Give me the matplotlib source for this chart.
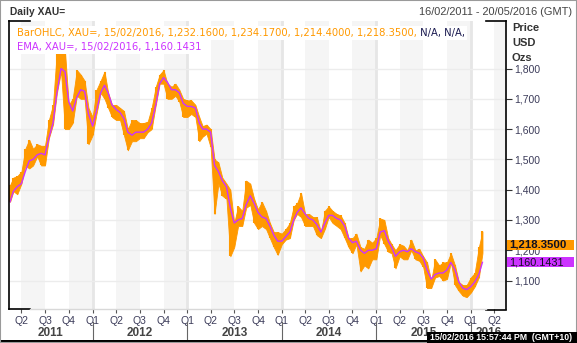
import matplotlib
matplotlib.use("Agg")
import matplotlib.pyplot as plt
import matplotlib.transforms as mtrans
from matplotlib.patches import Rectangle
from matplotlib.lines import Line2D
import pandas as pd

plt.rcParams["font.family"] = ["Liberation Sans", "DejaVu Sans"]

ORANGE = "#FF9900"
MAGENTA = "#CC33FF"
TXT = "#3C3C5A"

# semi-monthly sampling of the daily bars (1st and 16th of each month)
dates = ["2011-02-16"]
for yr in range(2011, 2017):
    for mo in range(1, 13):
        for dd in (1, 16):
            d = f"{yr}-{mo:02d}-{dd:02d}"
            if "2011-02-16" < d < "2016-02-15":
                dates.append(d)
dates.append("2016-02-15")
dates = pd.to_datetime(dates)

high = [1415, 1440, 1445, 1460, 1535, 1565, 1535, 1550, 1545, 1545, 1630, 1680, 1860, 1860, 1860,
        1680, 1700, 1795, 1780, 1760, 1670,                                     # 2011
        1640, 1730, 1760, 1790, 1720, 1680, 1680, 1670, 1660, 1600, 1630, 1630,
        1620, 1620, 1625, 1670, 1740, 1780, 1795, 1750, 1740, 1750, 1730, 1700,  # 2012
        1695, 1695, 1680, 1640, 1610, 1615, 1600, 1500, 1490, 1440, 1420, 1400,
        1290, 1345, 1330, 1430, 1420, 1370, 1335, 1360, 1330, 1290, 1260, 1260,  # 2013
        1255, 1270, 1290, 1345, 1355, 1390, 1320, 1320, 1310, 1310, 1260, 1330,
        1345, 1330, 1320, 1315, 1290, 1240, 1240, 1255, 1210, 1205, 1235, 1225,  # 2014
        1240, 1305, 1300, 1240, 1220, 1200, 1220, 1215, 1200, 1235, 1200, 1205,
        1180, 1160, 1100, 1170, 1150, 1160, 1160, 1190, 1150, 1095, 1085, 1085,  # 2015
        1110, 1125, 1210, 1262]                                                   # 2016
low = [1360, 1395, 1385, 1420, 1480, 1470, 1480, 1510, 1480, 1480, 1570, 1615, 1720, 1790, 1600,
       1600, 1620, 1710, 1700, 1700, 1550,
       1580, 1650, 1720, 1700, 1670, 1640, 1630, 1630, 1580, 1530, 1560, 1560,
       1570, 1570, 1590, 1600, 1680, 1750, 1750, 1700, 1700, 1710, 1690, 1640,
       1640, 1650, 1640, 1560, 1575, 1585, 1540, 1320, 1420, 1380, 1370, 1180,
       1210, 1280, 1280, 1340, 1350, 1290, 1270, 1280, 1270, 1240, 1210, 1185,
       1220, 1235, 1240, 1300, 1320, 1310, 1280, 1280, 1280, 1250, 1240, 1270,
       1310, 1290, 1280, 1270, 1240, 1210, 1190, 1220, 1130, 1150, 1140, 1170,
       1170, 1250, 1220, 1195, 1190, 1140, 1180, 1170, 1170, 1200, 1170, 1165,
       1145, 1075, 1075, 1110, 1115, 1100, 1105, 1160, 1085, 1065, 1050, 1045,
       1060, 1080, 1110, 1190]
ema = [1360, 1395, 1410, 1420, 1460, 1495, 1500, 1515, 1520, 1515, 1570, 1620, 1720, 1800, 1790,
       1690, 1660, 1705, 1730, 1725, 1650,
       1610, 1660, 1720, 1745, 1720, 1680, 1665, 1655, 1635, 1590, 1580, 1590,
       1590, 1590, 1600, 1620, 1680, 1750, 1770, 1755, 1730, 1730, 1720, 1685,
       1675, 1675, 1670, 1620, 1600, 1600, 1590, 1480, 1460, 1430, 1410, 1340,
       1290, 1300, 1305, 1350, 1380, 1355, 1325, 1310, 1305, 1280, 1250, 1230,
       1230, 1245, 1260, 1300, 1325, 1340, 1320, 1305, 1300, 1285, 1260, 1290,
       1315, 1315, 1305, 1300, 1280, 1240, 1225, 1230, 1200, 1190, 1200, 1200,
       1205, 1260, 1265, 1230, 1210, 1180, 1195, 1200, 1195, 1205, 1195, 1190,
       1175, 1135, 1105, 1120, 1125, 1125, 1135, 1160, 1135, 1095, 1075, 1070,
       1080, 1095, 1120, 1160.1431]

last_close = 1218.35
last_ema = 1160.1431
ohlc_label = "BarOHLC, XAU=, 15/02/2016, 1,232.1600, 1,234.1700, 1,214.4000, 1,218.3500,"
ema_label = "EMA, XAU=, 15/02/2016, 1,160.1431"
years = [2011, 2012, 2013, 2014, 2015, 2016]
quarters = pd.date_range("2011-04-01", "2016-04-01", freq="QS")
q_labels = [f"Q{q.quarter}" for q in quarters]

W, H = 577, 343
fig = plt.figure(figsize=(W / 100, H / 100), dpi=100)
ax = fig.add_axes([9 / W, 34 / H, 497 / W, 288 / H])
x0, x1 = pd.Timestamp("2011-02-12"), pd.Timestamp("2016-05-16")
ax.set_xlim(x0, x1)
ax.set_ylim(1006, 1957)

# quarter shading and year separators
for yr in years:
    ax.axvspan(pd.Timestamp(f"{yr}-04-01"), pd.Timestamp(f"{yr}-07-01"), color="#f5f5f5", lw=0, zorder=0)
    ax.axvspan(pd.Timestamp(f"{yr}-10-01"), pd.Timestamp(f"{yr + 1}-01-01"), color="#f5f5f5", lw=0, zorder=0)
    if yr > 2011:
        ax.axvline(pd.Timestamp(f"{yr}-01-01"), color="#e6e6e6", lw=2, zorder=0.5)
for v in range(1100, 1900, 100):
    ax.axhline(v, color="#ececec", lw=1, zorder=0.6)

ax.fill_between(dates, low, high, color=ORANGE, lw=0.6, edgecolor=ORANGE, zorder=3)
ax.vlines(dates, low, high, color=ORANGE, lw=1.5, zorder=3)
ax.plot(dates, ema, color=MAGENTA, lw=1, zorder=4)

# axes styling
for s in ("top", "left", "bottom"):
    ax.spines[s].set_visible(False)
ax.spines["right"].set_color("black")
ax.spines["right"].set_linewidth(1.2)
ax.yaxis.tick_right()
ax.set_yticks(range(1100, 1900, 100))
ax.set_yticklabels([f"{v:,}" for v in range(1100, 1900, 100)])
ax.tick_params(axis="y", colors="#333333", labelcolor=TXT, labelsize=7.5, length=4, pad=2)
ax.set_xticks(quarters)
ax.set_xticklabels(q_labels)
ax.tick_params(axis="x", colors="#555555", labelcolor=TXT, labelsize=7.5, length=3, pad=2)

def fx(px):
    return px / W

def fy(py):
    return 1 - py / H

lines = [((9, 21), (30, 21)), ((9, 309), (30, 309)), ((486, 21), (506, 21)), ((486, 310), (506, 310)),
         ((9, 21), (9, 309))]
for (a, b), (c, d) in lines:
    fig.add_artist(Line2D([fx(a), fx(c)], [fy(b), fy(d)], color="black", lw=1.2))
fig.add_artist(Line2D([fx(30), fx(486)], [fy(309), fy(309)], color="#d8d8d8", lw=1))

# year labels below quarters
bt = mtrans.blended_transform_factory(ax.transData, ax.transAxes)
for yr in years:
    a = max(pd.Timestamp(f"{yr}-01-01"), x0)
    b = min(pd.Timestamp(f"{yr + 1}-01-01"), x1)
    ax.text(a + (b - a) / 2, -0.085, str(yr), transform=bt, ha="center", va="center",
            fontsize=8.5, fontweight="bold", color="#444444")
    if yr > 2011:
        ax.plot([a, a], [-0.045, -0.11], transform=bt, clip_on=False, color="#666666", lw=0.8)

# legend lines
leg = dict(family="DejaVu Sans", fontsize=7.2, va="center")
t1 = fig.text(fx(17), fy(33), ohlc_label, color=ORANGE,
              bbox=dict(facecolor="white", edgecolor="none", pad=1.5), **leg)
ax.annotate(" N/A, N/A,", xy=(1, 0.5), xycoords=t1, ha="left", color="#1a1a50",
            bbox=dict(facecolor="white", edgecolor="none", pad=1.5), **leg)
fig.text(fx(17), fy(47), ema_label, color=MAGENTA,
         bbox=dict(facecolor="white", edgecolor="none", pad=1.5), **leg)

# titles
fig.text(fx(10), fy(12), "Daily XAU=", fontsize=7.4, fontweight="bold", color="#333333", va="center")
fig.text(fx(572), fy(12), "16/02/2011 - 20/05/2016 (GMT)", fontsize=7.9, color="#444444",
         va="center", ha="right")
for py, s in ((28, "Price"), (43, "USD"), (58, "Ozs")):
    fig.text(fx(512), fy(py), s, fontsize=8, fontweight="bold", color="#333333", va="center")

# last-value tags on the price axis
yt = mtrans.blended_transform_factory(ax.transAxes, ax.transData)
for val, col, txt, wt, fs in ((last_close, ORANGE, f"{last_close:,.4f}", "bold", 8.2),
                              (last_ema, MAGENTA, f"{last_ema:,.4f}", "normal", 7.8)):
    ax.add_patch(Rectangle((1.002, val - 17), 0.135, 34, transform=yt, facecolor=col,
                           edgecolor="none", clip_on=False, zorder=5))
    ax.text(1.006, val, txt, transform=yt, fontsize=fs, fontweight=wt, color="#101020",
            va="center", ha="left", clip_on=False, zorder=6)

# bottom status bar and frame
fig.add_artist(Rectangle((0, 0), 1, 3 / H, transform=fig.transFigure, facecolor="black", edgecolor="none"))
fig.add_artist(Rectangle((fx(427), 0), 1 - fx(427), 11 / H, transform=fig.transFigure,
                         facecolor="black", edgecolor="none", zorder=10))
fig.text(fx(430), fy(337.5), "15/02/2016 15:57:44 PM  (GMT+10)", color="white", fontsize=6.3,
         fontweight="bold", va="center", zorder=11)
fig.add_artist(Rectangle((0, 0), 1, 1, transform=fig.transFigure, fill=False, edgecolor="#9a9a9a", lw=1.5))

fig.savefig("out.png", dpi=100)
